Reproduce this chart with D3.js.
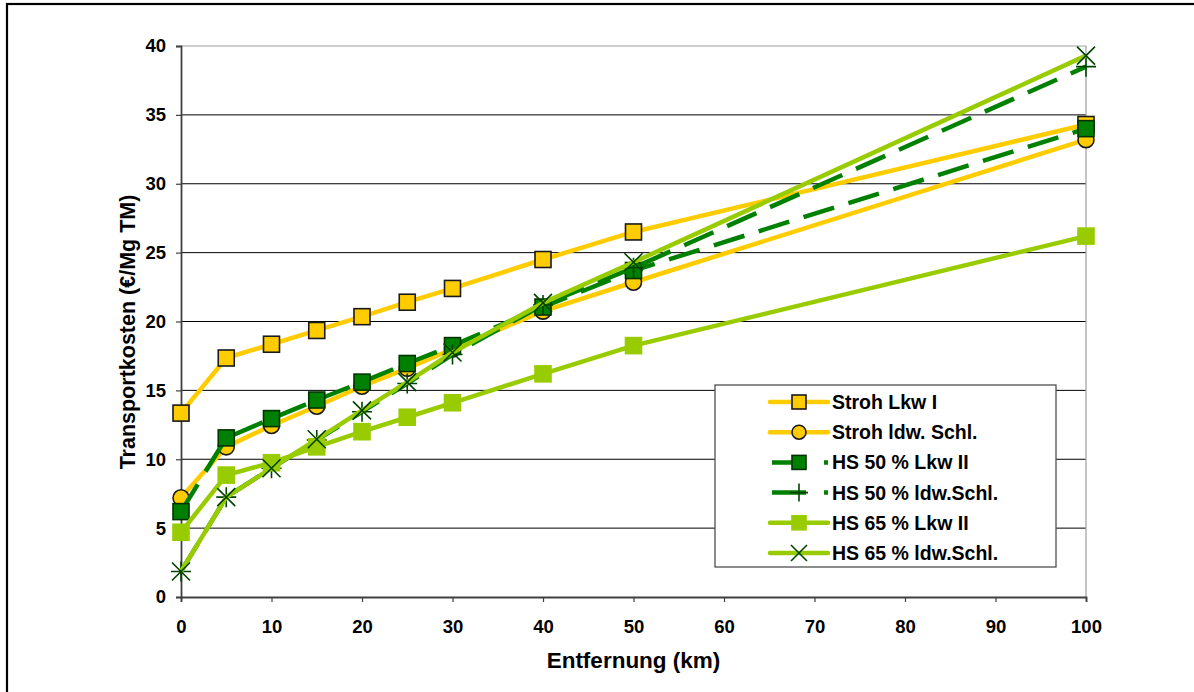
<!DOCTYPE html>
<html><head><meta charset="utf-8">
<script src="https://cdn.jsdelivr.net/npm/d3@7"></script>
<style>
body{margin:0;background:#fff;}
text{font-family:"Liberation Sans",Arial,sans-serif;font-weight:bold;fill:#000;}
</style></head><body>
<svg id="c" width="1194" height="692"></svg>
<script>
const distances = [0,5,10,15,20,25,30,40,50,100];
const strohLkwI   = [13.35,17.35,18.35,19.35,20.35,21.4,22.4,24.5,26.5,34.3];
const strohLdw    = [7.2,10.9,12.45,13.85,15.3,16.6,18.0,20.75,22.85,33.2];
const hs50LkwII   = [6.2,11.55,12.95,14.3,15.6,16.95,18.25,21.05,23.7,34.0];
const hs50Ldw     = [1.85,7.25,9.35,11.4,13.45,15.5,17.6,21.2,23.9,38.5];
const hs65LkwII   = [4.7,8.85,9.75,10.9,12.0,13.05,14.1,16.2,18.25,26.2];
const hs65Ldw     = [1.85,7.25,9.35,11.45,13.55,15.6,17.75,21.35,24.3,39.3];
const xTicks = [0,10,20,30,40,50,60,70,80,90,100];
const yTicks = [0,5,10,15,20,25,30,35,40];
const seriesNames = ["Stroh Lkw I","Stroh ldw. Schl.","HS 50 % Lkw II","HS 50 % ldw.Schl.","HS 65 % Lkw II","HS 65 % ldw.Schl."];

const series = [
 {name:seriesNames[0], vals:strohLkwI, color:"#FFCC00", dash:null, marker:"square", mfill:"#FFCC00", mstroke:"#1a1a1a"},
 {name:seriesNames[1], vals:strohLdw, color:"#FFCC00", dash:null, marker:"circle", mfill:"#FFCC00", mstroke:"#1a1a1a"},
 {name:seriesNames[2], vals:hs50LkwII, color:"#008000", dash:"32,15", marker:"square", mfill:"#008000", mstroke:"#003300"},
 {name:seriesNames[3], vals:hs50Ldw, color:"#008000", dash:"32,15", marker:"plus", mfill:"none", mstroke:"#004400"},
 {name:seriesNames[4], vals:hs65LkwII, color:"#99CC00", dash:null, marker:"square", mfill:"#99CC00", mstroke:"#99CC00"},
 {name:seriesNames[5], vals:hs65Ldw, color:"#99CC00", dash:null, marker:"x", mfill:"none", mstroke:"#004400"}
];

const svg = d3.select("#c");
const L=181,R=1086,T=46,B=597;
const x = d3.scaleLinear().domain([0,100]).range([L,R]);
const y = d3.scaleLinear().domain([0,40]).range([B,T]);

// outer frame
svg.append("rect").attr("x",7).attr("y",4).attr("width",1200).attr("height",700)
  .attr("fill","none").attr("stroke","#000").attr("stroke-width",2.2);

// gridlines
svg.append("g").selectAll("line").data(yTicks.filter(d=>d>0&&d<40)).join("line")
  .attr("x1",L).attr("x2",R).attr("y1",d=>y(d)).attr("y2",d=>y(d))
  .attr("stroke","#000").attr("stroke-width",1);
svg.append("line").attr("x1",L).attr("x2",R).attr("y1",y(40)).attr("y2",y(40)).attr("stroke","#a0a0a0").attr("stroke-width",1.2);
svg.append("line").attr("x1",R).attr("x2",R).attr("y1",T).attr("y2",B).attr("stroke","#a0a0a0").attr("stroke-width",1.2);

// axes
const yAxis = svg.append("g").attr("transform",`translate(${L},0)`)
  .call(d3.axisLeft(y).tickValues(yTicks).tickSize(5).tickPadding(10).tickFormat(d3.format("d")));
const xAxis = svg.append("g").attr("transform",`translate(0,${B})`)
  .call(d3.axisBottom(x).tickValues(xTicks).tickSize(5).tickPadding(18).tickFormat(d3.format("d")));
[yAxis,xAxis].forEach(a=>{
  a.select(".domain").attr("stroke","#404040").attr("stroke-width",1.8);
  a.selectAll(".tick line").attr("stroke","#404040").attr("stroke-width",1.2);
  a.selectAll(".tick text").style("font-size","18.5px").style("font-family","'Liberation Sans',Arial,sans-serif").style("font-weight","bold").attr("fill","#000");
});

// axis titles
svg.append("text").attr("x",(L+R)/2).attr("y",668).attr("text-anchor","middle")
  .style("font-size","22.5px").text("Entfernung (km)");
svg.append("text").attr("transform",`translate(135,332) rotate(-90)`).attr("text-anchor","middle")
  .style("font-size","21.5px").text("Transportkosten (€/Mg TM)");

function drawMarker(g, s, cx, cy, h){
  if(s.marker==="square"){
    g.append("rect").attr("x",cx-h).attr("y",cy-h).attr("width",2*h).attr("height",2*h)
      .attr("fill",s.mfill).attr("stroke",s.mstroke).attr("stroke-width",1.6);
  } else if(s.marker==="circle"){
    g.append("circle").attr("cx",cx).attr("cy",cy).attr("r",h)
      .attr("fill",s.mfill).attr("stroke",s.mstroke).attr("stroke-width",1.6);
  } else if(s.marker==="plus"){
    const k=h+2;
    g.append("path").attr("d",`M${cx-k},${cy}H${cx+k}M${cx},${cy-k}V${cy+k}`)
      .attr("stroke",s.mstroke).attr("stroke-width",1.6).attr("fill","none");
  } else if(s.marker==="x"){
    const k=h+1;
    g.append("path").attr("d",`M${cx-k},${cy-k}L${cx+k},${cy+k}M${cx-k},${cy+k}L${cx+k},${cy-k}`)
      .attr("stroke",s.mstroke).attr("stroke-width",1.6).attr("fill","none");
  }
}

const line = d3.line().x((d,i)=>x(distances[i])).y(d=>y(d));
series.forEach(s=>{
  const g = svg.append("g");
  g.append("path").attr("d",line(s.vals)).attr("fill","none").attr("stroke",s.color)
    .attr("stroke-width",4.5).attr("stroke-linejoin","round")
    .attr("stroke-dasharray",s.dash);
  s.vals.forEach((v,i)=>drawMarker(g,s,x(distances[i]),y(v),8));
});

// legend
const lg = svg.append("g");
lg.append("rect").attr("x",715).attr("y",385).attr("width",341).attr("height",182)
  .attr("fill","#fff").attr("stroke","#505050").attr("stroke-width",1.3);
series.forEach((s,i)=>{
  const cy = 402 + i*30.2;
  const g = lg.append("g");
  if(s.dash){
    g.append("line").attr("x1",772).attr("x2",828).attr("y1",cy).attr("y2",cy)
      .attr("stroke",s.color).attr("stroke-width",4.5).attr("stroke-dasharray","34,18");
  } else {
    g.append("line").attr("x1",770).attr("x2",828).attr("y1",cy).attr("y2",cy)
      .attr("stroke",s.color).attr("stroke-width",4.5).attr("stroke-linecap","round");
  }
  drawMarker(g,s,799,cy,7);
  g.append("text").attr("x",832).attr("y",cy+7).style("font-size","19.5px").text(s.name);
});
</script>
</body></html>
